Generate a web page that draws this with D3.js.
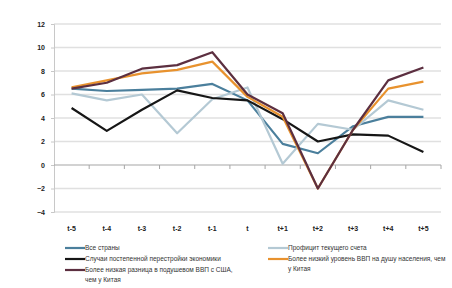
<!DOCTYPE html>
<html>
<head>
<meta charset="UTF-8">
<title>Рост ВВП</title>
<script src="https://d3js.org/d3.v7.min.js"></script>
<style>
  body { margin: 0; background: #fff; }
  svg { display: block; }
  .tick-label { font-family: "Liberation Sans Narrow", "Liberation Sans", sans-serif; font-size: 7px; fill: #222; }
  .legend-text { font-family: "Liberation Sans", sans-serif; font-size: 6.5px; fill: #333; }
</style>
</head>
<body>
<svg id="chart" width="452" height="288"></svg>
<script>
// periods around the event year t
const periods = ["t-5", "t-4", "t-3", "t-2", "t-1", "t", "t+1", "t+2", "t+3", "t+4", "t+5"];
const yTicks = [-4, -2, 0, 2, 4, 6, 8, 10, 12];

// series values
const allCountries = [6.5, 6.3, 6.4, 6.5, 6.9, 5.5, 1.8, 1.0, 3.3, 4.1, 4.1];
const currentSurplus = [6.1, 5.5, 6.0, 2.7, 5.6, 6.6, 0.1, 3.5, 3.0, 5.5, 4.7];
const gradualCases = [4.85, 2.9, 4.7, 6.35, 5.7, 5.5, 3.9, 2.0, 2.6, 2.5, 1.1];
const lowerGdpLevel = [6.6, 7.2, 7.8, 8.1, 8.8, 5.8, 4.1, -2.0, 3.0, 6.5, 7.1];
const lowerGdpGap = [6.5, 7.0, 8.2, 8.5, 9.6, 6.0, 4.4, -2.0, 3.0, 7.2, 8.3];

const series = [
  { name: ["Все страны"], values: allCountries, color: "#4b7f9c" },
  { name: ["Профицит текущего счета"], values: currentSurplus, color: "#b4c9d4" },
  { name: ["Случаи постепенной перестройки экономики"], values: gradualCases, color: "#161616" },
  { name: ["Более низкий уровень ВВП на душу населения, чем", "у Китая"], values: lowerGdpLevel, color: "#e8922e" },
  { name: ["Более низкая разница в подушевом ВВП с США,", "чем у Китая"], values: lowerGdpGap, color: "#5c2f40" }
];

const svg = d3.select("svg#chart");
const x = d3.scaleBand().domain(periods).range([54, 441]);
const y = d3.scaleLinear().domain([-4, 12]).range([212, 24]);

// gridlines
const grid = svg.append("g");
grid.selectAll("line").data(yTicks.filter(d => d !== 0)).join("line")
  .attr("x1", 54).attr("x2", 441)
  .attr("y1", d => y(d)).attr("y2", d => y(d))
  .attr("stroke", "#e0e0e0").attr("stroke-width", 1.3);

// y axis
const yAxis = svg.append("g").attr("transform", "translate(54,0)")
  .call(d3.axisLeft(y).tickValues(yTicks).tickSize(3).tickPadding(6));
yAxis.select(".domain").attr("stroke", "#c8c8c8");
yAxis.selectAll(".tick line").attr("stroke", "#c8c8c8");
yAxis.selectAll(".tick text").attr("class", "tick-label").attr("font-weight", "bold");

// zero line with category ticks
const zero = svg.append("g").attr("transform", "translate(0," + y(0) + ")");
zero.append("line").attr("x1", 54).attr("x2", 441).attr("stroke", "#a6a6a6").attr("stroke-width", 1.2);
zero.selectAll("line.tk").data(periods).join("line")
  .attr("class", "tk")
  .attr("x1", d => x(d) + x.bandwidth()).attr("x2", d => x(d) + x.bandwidth())
  .attr("y1", 0).attr("y2", 4).attr("stroke", "#a6a6a6");

// category labels along the bottom
svg.append("g").selectAll("text").data(periods).join("text")
  .attr("class", "tick-label")
  .attr("x", d => x(d) + x.bandwidth() / 2)
  .attr("y", 231)
  .attr("text-anchor", "middle")
  .attr("font-weight", "bold")
  .text(d => d);

// lines
const line = d3.line()
  .x((d, i) => x(periods[i]) + x.bandwidth() / 2)
  .y(d => y(d));

svg.append("g").selectAll("path").data(series).join("path")
  .attr("d", d => line(d.values))
  .attr("fill", "none")
  .attr("stroke", d => d.color)
  .attr("stroke-width", 2.2)
  .attr("stroke-linejoin", "round");

// legend, two columns like the original
const legendPos = [
  { x: 65, y: 248 }, { x: 268, y: 248 },
  { x: 65, y: 259 }, { x: 268, y: 259 },
  { x: 65, y: 270 }
];
const legend = svg.append("g").selectAll("g").data(series).join("g")
  .attr("transform", (d, i) => "translate(" + legendPos[i].x + "," + legendPos[i].y + ")");
legend.append("line")
  .attr("x1", 0).attr("x2", 20)
  .attr("stroke", d => d.color).attr("stroke-width", 2.2);
legend.each(function (d) {
  const t = d3.select(this).append("text").attr("class", "legend-text").attr("x", 20).attr("y", 2.2);
  d.name.forEach((s, k) => {
    t.append("tspan").attr("x", 20).attr("dy", k === 0 ? 0 : 9.5).text(s);
  });
});
</script>
</body>
</html>
